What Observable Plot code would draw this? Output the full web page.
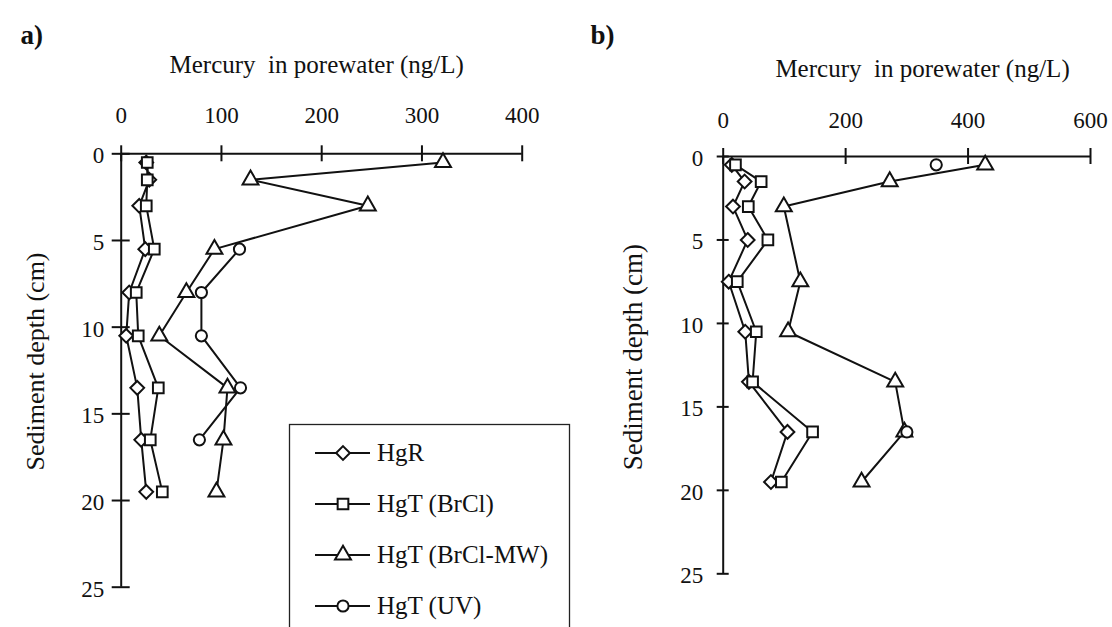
<!DOCTYPE html>
<html><head><meta charset="utf-8">
<script src="https://cdn.jsdelivr.net/npm/d3@7"></script>
<script src="https://cdn.jsdelivr.net/npm/@observablehq/plot@0.6"></script>
<style>
body{margin:0;background:#fff;}
#wrap{position:relative;width:1112px;height:627px;overflow:hidden;background:#fff;font-family:"Liberation Serif","Times New Roman",serif;}
#wrap > .p{position:absolute;top:0;}
</style></head><body>
<div id="wrap"><div class="p" id="pa" style="left:0"></div><div class="p" id="pb" style="left:560px"></div><div class="p" id="leg" style="left:0"></div></div>
<script>
// ---------- data ----------
const seriesNames = ["HgR", "HgT (BrCl)", "HgT (BrCl-MW)", "HgT (UV)"];
const xTicksA = [0, 100, 200, 300, 400];
const xTicksB = [0, 200, 400, 600];
const yTicks = [0, 5, 10, 15, 20, 25];

// panel a
const depthA   = [0.5, 1.5, 3, 5.5, 8, 10.5, 13.5, 16.5, 19.5];
const hgrA     = [25, 28, 18, 24, 8, 5, 16, 20, 25];
const brclA    = [26, 26, 25, 33, 15, 17, 37, 29, 41];
const mwA      = [321, 129, 246, 93, 65, 38, 106, 102, 95];
const uvDepthA = [5.5, 8, 10.5, 13.5, 16.5];
const uvA      = [118, 80, 80, 119, 78];

// panel b
const depthB   = [0.5, 1.5, 3, 5, 7.5, 10.5, 13.5, 16.5, 19.5];
const hgrB     = [14, 35, 16, 40, 9, 36, 42, 105, 78];
const brclB    = [20, 62, 41, 73, 23, 54, 48, 146, 95];
const mwDepthB = [0.5, 1.5, 3, 7.5, 10.5, 13.5, 16.5, 19.5];
const mwB      = [428, 272, 99, 126, 106, 281, 296, 226];
const uvDepthB = [0.5, 16.5];
const uvB      = [348, 300];

// ---------- styling ----------
const FONT = '"Liberation Serif","Times New Roman",serif';
const styles = {
  "HgR":           {symbol: "diamond2", r: 6.2},
  "HgT (BrCl)":    {symbol: "square2",  r: 6.8},
  "HgT (BrCl-MW)": {symbol: "triangle2", r: 7.6},
  "HgT (UV)":      {symbol: "circle",   r: 5.6}
};

const rows = (depths, vals) => depths.map((d, i) => ({depth: d, value: vals[i]}));

function panel({width, height, mL, mR, mT, mB, xMax, xTicks, data, tickPad, yTickPad, yTickLen,
                label, labelPos, title, titlePos, ylab, ylabPos, ylabSize, uvLine}) {
  const marks = [
    Plot.ruleY([0], {stroke: "#111", strokeWidth: 2}),
    Plot.ruleX([0], {stroke: "#111", strokeWidth: 2}),
    Plot.ruleX(xTicks, {x: d => d, y1: 0, y2: 0, insetTop: -8, insetBottom: -8, stroke: "#111", strokeWidth: 2}),
    Plot.ruleY(yTicks, {y: d => d, x1: 0, x2: 0, insetLeft: -yTickLen, insetRight: -yTickLen, stroke: "#111", strokeWidth: 2}),
    Plot.axisX(xTicks, {anchor: "top", label: null, tickSize: 0, tickPadding: tickPad, fontSize: 23, fill: "#111"}),
    Plot.axisY(yTicks, {anchor: "left", label: null, tickSize: 0, tickPadding: yTickPad, dy: 2, fontSize: 23, fill: "#111"})
  ];
  seriesNames.forEach(name => {
    if (name !== "HgT (UV)" || uvLine)
      marks.push(Plot.line(data[name], {x: "value", y: "depth", stroke: "#111", strokeWidth: 2}));
  });
  seriesNames.forEach(name => {
    const s = styles[name];
    marks.push(Plot.dot(data[name], {x: "value", y: "depth", symbol: s.symbol, r: s.r, fill: "white", stroke: "#111", strokeWidth: 2}));
  });
  marks.push(Plot.text([label], {frameAnchor: "top-left", text: d => d, dx: labelPos[0], dy: labelPos[1], textAnchor: "start", lineAnchor: "middle", fontSize: 27, fontWeight: "bold", fill: "#111"}));
  marks.push(Plot.text([title], {frameAnchor: "top", text: d => d, dx: titlePos[0], dy: titlePos[1], textAnchor: "middle", lineAnchor: "middle", fontSize: 25, fill: "#111"}));
  marks.push(Plot.text([ylab], {frameAnchor: "left", text: d => d, dx: ylabPos[0], dy: ylabPos[1], rotate: -90, textAnchor: "middle", lineAnchor: "middle", fontSize: ylabSize, fill: "#111"}));
  return Plot.plot({
    width, height, marginLeft: mL, marginRight: mR, marginTop: mT, marginBottom: mB,
    style: {fontFamily: FONT, fontSize: "23px", background: "transparent", color: "#111", overflow: "visible"},
    x: {domain: [0, xMax], axis: null},
    y: {domain: [0, 25], reverse: true, axis: null},
    marks
  });
}

const dataA = {
  "HgR": rows(depthA, hgrA),
  "HgT (BrCl)": rows(depthA, brclA),
  "HgT (BrCl-MW)": rows(depthA, mwA),
  "HgT (UV)": rows(uvDepthA, uvA)
};
const dataB = {
  "HgR": rows(depthB, hgrB),
  "HgT (BrCl)": rows(depthB, brclB),
  "HgT (BrCl-MW)": rows(mwDepthB, mwB),
  "HgT (UV)": rows(uvDepthB, uvB)
};

document.getElementById("pa").append(panel({
  width: 560, height: 627, mL: 120.7, mR: 38.3, mT: 153.3, mB: 40.3,
  xMax: 400, xTicks: xTicksA, data: dataA, tickPad: 31, yTickPad: 17, yTickLen: 9,
  label: "a)", labelPos: [-100.7, -118], title: "Mercury\u00a0 in porewater (ng/L)", titlePos: [-5, -89],
  ylab: "Sediment depth (cm)", ylabPos: [-85.5, -9], ylabSize: 26, uvLine: true
}));
document.getElementById("pb").append(panel({
  width: 552, height: 627, mL: 162.7, mR: 22, mT: 156, mB: 53.7,
  xMax: 600, xTicks: xTicksB, data: dataB, tickPad: 29, yTickPad: 20, yTickLen: 6,
  label: "b)", labelPos: [-132.7, -121], title: "Mercury\u00a0 in porewater (ng/L)", titlePos: [15.7, -88],
  ylab: "Sediment depth (cm)", ylabPos: [-89.7, -8], ylabSize: 27, uvLine: false
}));

// ---------- legend (panel a) ----------
const legendY0 = 453, legendStep = 51;
const symMap = {diamond2: d3.symbolDiamond2, square2: d3.symbolSquare2, triangle2: d3.symbolTriangle2, circle: d3.symbolCircle};
const leg = d3.create("svg").attr("width", 1112).attr("height", 627).style("font-family", FONT);
leg.append("rect").attr("x", 289.5).attr("y", 424.5).attr("width", 280).attr("height", 260)
  .attr("fill", "white").attr("stroke", "#222").attr("stroke-width", 1.3);
seriesNames.forEach((name, i) => {
  const y = legendY0 + i * legendStep, s = styles[name];
  const g = leg.append("g");
  g.append("line").attr("x1", 315).attr("x2", 370).attr("y1", y).attr("y2", y).attr("stroke", "#111").attr("stroke-width", 2);
  g.append("path").attr("transform", `translate(343,${y})`)
    .attr("d", d3.symbol(symMap[s.symbol], s.r * s.r * Math.PI)())
    .attr("fill", "white").attr("stroke", "#111").attr("stroke-width", 2);
  g.append("text").attr("x", 377).attr("y", y).attr("dy", "0.33em").attr("font-size", 25).attr("fill", "#111").text(name);
});
document.getElementById("leg").append(leg.node());
</script>
</body></html>
